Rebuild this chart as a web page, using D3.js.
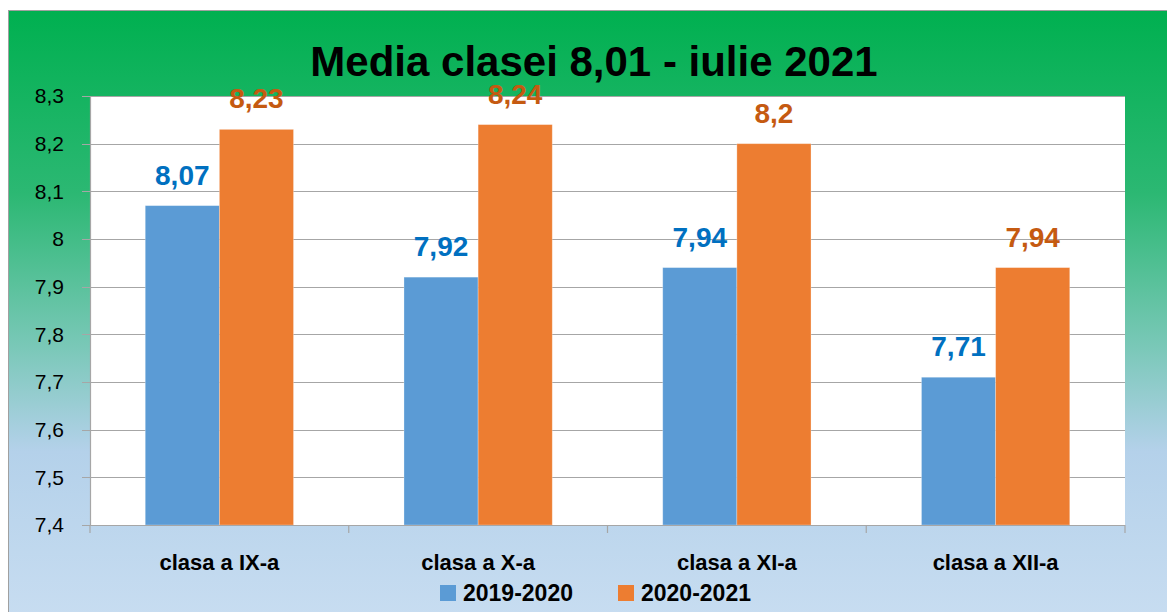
<!DOCTYPE html>
<html>
<head>
<meta charset="utf-8">
<script src="https://cdn.jsdelivr.net/npm/d3@7"></script>
<style>
  body { margin: 0; background: #fff; }
  svg text { font-family: "Liberation Sans", Arial, sans-serif; }
</style>
</head>
<body>
<div id="chart"></div>
<script>
// data
var categories = ["clasa a IX-a", "clasa a X-a", "clasa a XI-a", "clasa a XII-a"];
var seriesNames = ["2019-2020", "2020-2021"];
var values2019 = [8.07, 7.92, 7.94, 7.71];
var values2020 = [8.23, 8.24, 8.2, 7.94];
var yTicks = [7.4, 7.5, 7.6, 7.7, 7.8, 7.9, 8, 8.1, 8.2, 8.3];
var title = "Media clasei 8,01 - iulie 2021";

var barColors = ["#5b9bd5", "#ed7d31"];
var labelColors = ["#0070c0", "#c55a11"];

const width = 1167;
const height = 612;

var svg = d3.select("#chart")
  .append("svg")
  .attr("width", width)
  .attr("height", height);

// background gradient, green on top going to light blue
var grad = svg.append("defs")
  .append("linearGradient")
  .attr("id", "bg")
  .attr("x1", 0).attr("y1", 0).attr("x2", 0).attr("y2", 1);
grad.append("stop").attr("offset", "0%").attr("stop-color", "#00b050");
grad.append("stop").attr("offset", "30%").attr("stop-color", "#2cb873");
grad.append("stop").attr("offset", "55%").attr("stop-color", "#7ac8b8");
grad.append("stop").attr("offset", "72%").attr("stop-color", "#b4d1ea");
grad.append("stop").attr("offset", "100%").attr("stop-color", "#c8ddf1");

svg.append("rect")
  .attr("x", 8.5).attr("y", 10.5)
  .attr("width", width).attr("height", height)
  .attr("fill", "url(#bg)")
  .attr("stroke", "#a0a0a0")
  .attr("stroke-width", 1);

// plot area
var plot = { left: 90, top: 96, right: 1125, bottom: 525 };

var x = d3.scaleBand()
  .domain(categories)
  .range([plot.left, plot.right]);

var xInner = d3.scaleBand()
  .domain(seriesNames)
  .range([0, x.bandwidth()])
  .paddingInner(0)
  .paddingOuter(0.745);

var y = d3.scaleLinear()
  .domain([7.4, 8.3])
  .range([plot.bottom, plot.top]);

svg.append("rect")
  .attr("x", plot.left).attr("y", plot.top)
  .attr("width", plot.right - plot.left)
  .attr("height", plot.bottom - plot.top)
  .attr("fill", "#ffffff");

// grid lines
svg.append("g")
  .selectAll("line")
  .data(yTicks)
  .enter().append("line")
  .attr("x1", plot.left - 8)
  .attr("x2", plot.right)
  .attr("y1", function (d) { return Math.round(y(d)) + 0.5; })
  .attr("y2", function (d) { return Math.round(y(d)) + 0.5; })
  .attr("stroke", "#a6a6a6")
  .attr("stroke-width", 1.2);

// y axis
var yAxis = d3.axisLeft(y)
  .tickValues(yTicks)
  .tickSize(0)
  .tickPadding(26)
  .tickFormat(function (d) { return String(d).replace(".", ","); });

var yg = svg.append("g")
  .attr("transform", "translate(" + plot.left + ",0)")
  .call(yAxis);
yg.select(".domain").attr("stroke", "#a6a6a6").attr("stroke-width", 1.2);
yg.selectAll("text")
  .attr("font-size", 21)
  .attr("fill", "#000");

// bars
var groups = svg.append("g")
  .selectAll("g")
  .data(categories)
  .enter().append("g")
  .attr("transform", function (d) { return "translate(" + x(d) + ",0)"; });

var allSeries = [values2019, values2020];

groups.selectAll("rect")
  .data(function (d, i) {
    return seriesNames.map(function (s, j) { return { s: s, j: j, v: allSeries[j][i] }; });
  })
  .enter().append("rect")
  .attr("x", function (d) { return xInner(d.s); })
  .attr("width", xInner.bandwidth())
  .attr("y", function (d) { return y(d.v); })
  .attr("height", function (d) { return plot.bottom - y(d.v); })
  .attr("fill", function (d) { return barColors[d.j]; })
  .attr("stroke", "#ffffff")
  .attr("stroke-opacity", 0.35)
  .attr("stroke-width", 0.8);

// value labels above bars
groups.selectAll("text.val")
  .data(function (d, i) {
    return seriesNames.map(function (s, j) { return { s: s, j: j, v: allSeries[j][i] }; });
  })
  .enter().append("text")
  .attr("class", "val")
  .attr("x", function (d) { return xInner(d.s) + xInner.bandwidth() / 2; })
  .attr("y", function (d) { return y(d.v) - 21; })
  .attr("text-anchor", "middle")
  .attr("font-size", 28)
  .attr("font-weight", "bold")
  .attr("fill", function (d) { return labelColors[d.j]; })
  .text(function (d) { return String(d.v).replace(".", ","); });

// x axis
var xAxisLine = svg.append("g");
xAxisLine.append("line")
  .attr("x1", plot.left).attr("x2", plot.right)
  .attr("y1", plot.bottom + 0.5).attr("y2", plot.bottom + 0.5)
  .attr("stroke", "#a6a6a6").attr("stroke-width", 1.2);
xAxisLine.selectAll("line.tick")
  .data(categories.concat(["end"]))
  .enter().append("line")
  .attr("class", "tick")
  .attr("x1", function (d, i) { return plot.left + i * x.step(); })
  .attr("x2", function (d, i) { return plot.left + i * x.step(); })
  .attr("y1", plot.bottom)
  .attr("y2", plot.bottom + 8)
  .attr("stroke", "#a6a6a6").attr("stroke-width", 1.2);

svg.append("g")
  .selectAll("text")
  .data(categories)
  .enter().append("text")
  .attr("x", function (d) { return x(d) + x.bandwidth() / 2; })
  .attr("y", 570)
  .attr("text-anchor", "middle")
  .attr("font-size", 22)
  .attr("font-weight", "bold")
  .attr("fill", "#000")
  .text(function (d) { return d; });

// title
svg.append("text")
  .attr("x", 594)
  .attr("y", 76)
  .attr("text-anchor", "middle")
  .attr("font-size", 42)
  .attr("font-weight", "bold")
  .attr("fill", "#000")
  .text(title);

// legend
var legend = svg.append("g");
var legendX = [440, 618];
seriesNames.forEach(function (s, i) {
  legend.append("rect")
    .attr("x", legendX[i]).attr("y", 585)
    .attr("width", 16).attr("height", 16)
    .attr("fill", barColors[i]);
  legend.append("text")
    .attr("x", legendX[i] + 23)
    .attr("y", 601)
    .attr("font-size", 23)
    .attr("font-weight", "bold")
    .attr("fill", "#000")
    .text(s);
});
</script>
</body>
</html>
